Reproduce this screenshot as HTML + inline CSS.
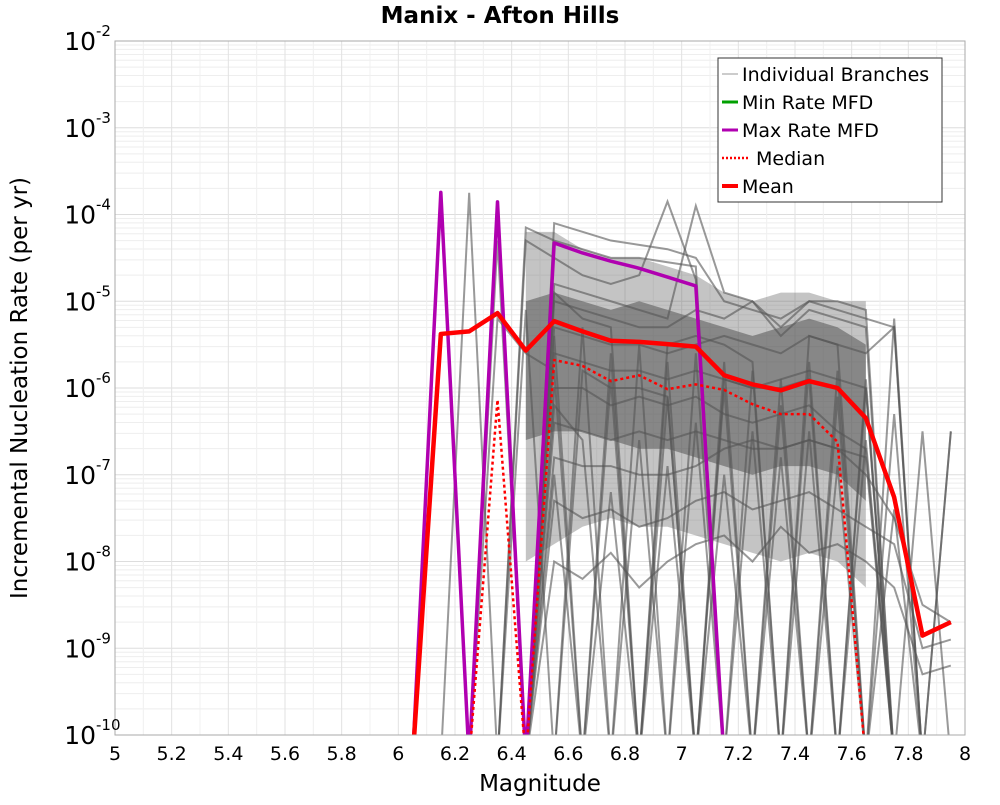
<!DOCTYPE html>
<html><head><meta charset="utf-8"><style>
body{margin:0;background:#fff}
text{font-family:"DejaVu Sans","Liberation Sans",sans-serif}
</style></head><body>
<svg id="c" width="1000" height="800" xmlns="http://www.w3.org/2000/svg">
<text x="500" y="23" text-anchor="middle" font-size="23" font-weight="bold">Manix - Afton Hills</text>
<g id="grid"></g><g id="bands"></g><g id="branches"></g><g id="series"></g>
<rect x="115" y="41" width="850" height="694" fill="none" stroke="#aaa"/>
<g id="axes"></g>
<text x="540" y="791" text-anchor="middle" font-size="23">Magnitude</text>
<text transform="translate(27,388) rotate(-90)" text-anchor="middle" font-size="23">Incremental Nucleation Rate (per yr)</text>
<g>
<rect x="718" y="58" width="224" height="144" fill="#fff" stroke="#333"/>
<line x1="722" y1="74" x2="738" y2="74" stroke="#999"/><text x="742" y="81" font-size="19">Individual Branches</text>
<line x1="722" y1="102" x2="738" y2="102" stroke="#00a000" stroke-width="3"/><text x="742" y="109" font-size="19">Min Rate MFD</text>
<line x1="722" y1="130" x2="738" y2="130" stroke="#b000b0" stroke-width="3"/><text x="742" y="137" font-size="19">Max Rate MFD</text>
<line x1="722" y1="158" x2="750" y2="158" stroke="#f00" stroke-width="2.5" stroke-dasharray="2,2"/><text x="756" y="165" font-size="19">Median</text>
<line x1="722" y1="186" x2="738" y2="186" stroke="#f00" stroke-width="4"/><text x="742" y="193" font-size="19">Mean</text>
</g>
</svg>
<script>
const mags=[6.05,6.15,6.25,6.35,6.45,6.55,6.65,6.75,6.85,6.95,7.05,7.15,7.25,7.35,7.45,7.55,7.65,7.75,7.85,7.95];
const meanVals=[0,4.2e-6,4.5e-6,7.3e-6,2.7e-6,5.9e-6,4.5e-6,3.5e-6,3.4e-6,3.2e-6,3.0e-6,1.4e-6,1.1e-6,9.4e-7,1.2e-6,1.0e-6,4.5e-7,5.5e-8,1.4e-9,2.0e-9];
const medianVals=[0,0,0,7.3e-7,0,2.1e-6,1.8e-6,1.2e-6,1.4e-6,9.7e-7,1.1e-6,9.5e-7,6.5e-7,5e-7,5e-7,2.4e-7,0,0,0,0];
const maxVals=[0,1.8e-4,0,1.4e-4,0,4.7e-5,3.6e-5,2.9e-5,2.4e-5,1.9e-5,1.5e-5,0,0,0,0,0,0,0,0,0];
const minVals=[0,0,0,0,0,0,0,0,0,0,0,0,0,0,0,0,0,0,0,0];
// dense branch envelope bands (log10), mags 6.45..7.65
const bandMags=[6.45,6.55,6.65,6.75,6.85,6.95,7.05,7.15,7.25,7.35,7.45,7.55,7.65];
const outerTop=[-4.2,-4.2,-4.4,-4.5,-4.5,-4.6,-4.7,-4.9,-5.0,-4.9,-4.9,-5.0,-5.0];
const outerBottom=[-8.0,-7.8,-7.6,-7.5,-7.6,-7.6,-7.7,-7.8,-7.9,-8.0,-7.9,-8.0,-8.3];
const innerTop=[-5.0,-4.9,-5.0,-5.1,-5.0,-5.1,-5.2,-5.3,-5.4,-5.3,-5.2,-5.3,-5.5];
const innerBottom=[-6.6,-6.5,-6.5,-6.6,-6.7,-6.7,-6.8,-6.9,-7.0,-6.9,-6.9,-7.0,-7.3];
// individual branches, log10 rate (-12 = zero)
const branches=[
[-12,-12,-3.75,-12,-12,-12,-12,-12,-12,-12,-12,-12,-12,-12,-12,-12,-12,-12,-12,-12],
[-12,-3.8,-12,-12,-12,-12,-12,-12,-12,-12,-12,-12,-12,-12,-12,-12,-12,-12,-12,-12],
[-12,-12,-12,-4.3,-12,-12,-12,-12,-12,-12,-12,-12,-12,-12,-12,-12,-12,-12,-12,-12],
[-12,-12,-12,-12,-4.15,-4.3,-4.4,-4.5,-4.5,-4.55,-4.6,-12,-12,-12,-12,-12,-12,-12,-12,-12],
[-12,-12,-12,-12,-4.3,-4.5,-4.7,-4.8,-4.7,-3.85,-4.75,-12,-12,-12,-12,-12,-12,-12,-12,-12],
[-12,-12,-12,-12,-12,-4.8,-4.9,-5.0,-5.1,-5.2,-3.9,-4.9,-5.0,-5.3,-5.0,-5.0,-5.1,-12,-12,-12],
[-12,-12,-12,-12,-12,-5.0,-5.1,-5.2,-5.3,-5.3,-5.1,-5.2,-5.0,-5.4,-5.1,-5.2,-5.3,-12,-12,-12],
[-12,-12,-12,-12,-12,-5.3,-5.4,-5.5,-5.5,-5.6,-5.5,-5.4,-5.5,-5.6,-5.4,-5.5,-12,-5.2,-12,-12],
[-12,-12,-12,-12,-12,-5.6,-5.7,-5.8,-5.8,-5.9,-5.8,-5.9,-6.0,-5.9,-5.8,-5.9,-6.0,-12,-12,-12],
[-12,-12,-12,-12,-12,-6.0,-6.0,-6.2,-6.1,-6.2,-6.1,-6.3,-6.4,-6.3,-6.2,-6.5,-6.7,-12,-6.5,-12],
[-12,-12,-12,-12,-12,-6.4,-6.5,-6.6,-6.5,-6.6,-6.5,-6.6,-6.7,-6.7,-6.6,-6.7,-6.8,-12,-12,-6.5],
[-12,-12,-12,-12,-12,-6.8,-6.9,-6.9,-7.0,-7.0,-6.9,-6.7,-6.6,-6.7,-6.6,-6.7,-7.0,-7.5,-8.5,-8.7],
[-12,-12,-12,-12,-12,-7.3,-7.5,-7.4,-7.6,-7.5,-7.3,-7.2,-7.4,-7.3,-7.2,-7.4,-7.6,-7.8,-9,-8.9],
[-12,-12,-12,-12,-12,-8.0,-8.2,-7.9,-8.3,-8.0,-7.8,-7.7,-8.0,-7.6,-7.9,-7.8,-8.0,-8.3,-9.3,-9.2],
[-12,-12,-12,-12,-5.1,-12,-5.3,-12,-5.5,-12,-5.6,-12,-5.8,-12,-5.7,-12,-6.0,-12,-12,-12],
[-12,-12,-12,-12,-12,-5.4,-12,-5.6,-12,-5.7,-12,-5.7,-12,-5.9,-12,-5.8,-12,-6.3,-12,-12],
[-12,-12,-12,-5.2,-5.6,-5.8,-12,-5.9,-12,-6.1,-12,-6.0,-12,-6.2,-12,-6.1,-12,-12,-12,-12],
[-12,-12,-12,-12,-12,-6.2,-6.6,-12,-6.6,-12,-6.4,-12,-6.5,-12,-6.5,-12,-6.6,-12,-12,-12],
[-12,-12,-12,-12,-12,-4.9,-5.2,-5.3,-12,-5.5,-5.4,-5.5,-5.7,-12,-5.4,-5.5,-5.6,-5.3,-12,-12],
[-12,-12,-12,-12,-12,-12,-5.8,-6.0,-6.0,-6.1,-12,-5.9,-6.0,-6.0,-5.9,-12,-5.9,-12,-12,-12],
[-12,-12,-12,-12,-12,-7.0,-12,-7.2,-12,-6.9,-12,-7.0,-12,-6.8,-12,-6.9,-12,-7.4,-12,-6.5],
[-12,-12,-12,-12,-12,-4.1,-4.2,-4.3,-4.35,-4.4,-4.5,-5.0,-5.1,-5.2,-5.0,-5.1,-5.2,-5.3,-12,-12]
];
const ns='http://www.w3.org/2000/svg';
const X=m=>115+(m-5)*850/3;
const Y=v=>{let l=Math.max(-10.3,v);return 41+(-2-l)*86.75;};
const YV=v=>Y(v>0?Math.log10(v):-12);
function mk(p,t,a){const e=document.createElementNS(ns,t);for(const k in a)e.setAttribute(k,a[k]);p.appendChild(e);return e;}
const grid=document.getElementById('grid'),axes=document.getElementById('axes');
for(let d=-10;d<-2;d++){for(let k=1;k<10;k++){const y=Y(d+Math.log10(k));
 const l=mk(grid,'line',{x1:115,x2:965,y1:y,y2:y,stroke:k==1?'#ddd':'#eee'});
 }}
for(let i=0;i<=30;i++){const x=X(5+i*0.1);
 const l=mk(grid,'line',{x1:x,x2:x,y1:41,y2:735,stroke:i%2?'#f0f0f0':'#e2e2e2'});
 }
const xTicks=['5','5.2','5.4','5.6','5.8','6','6.2','6.4','6.6','6.8','7','7.2','7.4','7.6','7.8','8'];
xTicks.forEach(t=>{const e=mk(axes,'text',{x:X(+t),y:760,'text-anchor':'middle','font-size':19});e.textContent=t;
 });
const yExp=[-2,-3,-4,-5,-6,-7,-8,-9,-10];
yExp.forEach(d=>{const e=mk(axes,'text',{x:96,y:Y(d)+9,'text-anchor':'end','font-size':25});
 e.textContent='10';
 const s=mk(axes,'text',{x:96,y:Y(d)-5,'font-size':15});s.textContent=String(d);
 });
const cp=mk(document.getElementById('c'),'clipPath',{id:'clip'});mk(cp,'rect',{x:115,y:41,width:850,height:694});
const bandG=document.getElementById('bands');
function band(top,bot,op,name){const pts=top.map((v,i)=>X(bandMags[i])+','+Y(v)).concat(bot.map((v,i)=>X(bandMags[i])+','+Y(v)).reverse()).join(' ');
 const p=mk(bandG,'polygon',{points:pts,fill:'#555','fill-opacity':op});
 }
band(outerTop,outerBottom,0.35,'branch-band-outer');
band(innerTop,innerBottom,0.55,'branch-band-inner');
const bg=document.getElementById('branches');
branches.forEach(b=>{const pts=b.map((v,i)=>X(mags[i])+','+Y(v)).join(' ');
 const p=mk(bg,'polyline',{points:pts,fill:'none',stroke:'#555','stroke-opacity':0.6,'stroke-width':2});
 });
const sg=document.getElementById('series');
function line(vals,col,w,dash,name){const pts=vals.map((v,i)=>X(mags[i])+','+YV(v)).join(' ');
 const p=mk(sg,'polyline',{points:pts,fill:'none',stroke:col,'stroke-width':w,'stroke-linejoin':'round'});
 if(dash)p.setAttribute('stroke-dasharray',dash);
 }
sg.setAttribute('clip-path','url(#clip)');bg.setAttribute('clip-path','url(#clip)');bandG.setAttribute('clip-path','url(#clip)');
line(minVals,'#00a000',3,null,'min-rate-line');
line(maxVals,'#b000b0',3.5,null,'max-rate-line');
line(medianVals,'#f00',2.5,'3,3','median-line');
line(meanVals,'#f00',4.5,null,'mean-line');
</script>
</body></html>
